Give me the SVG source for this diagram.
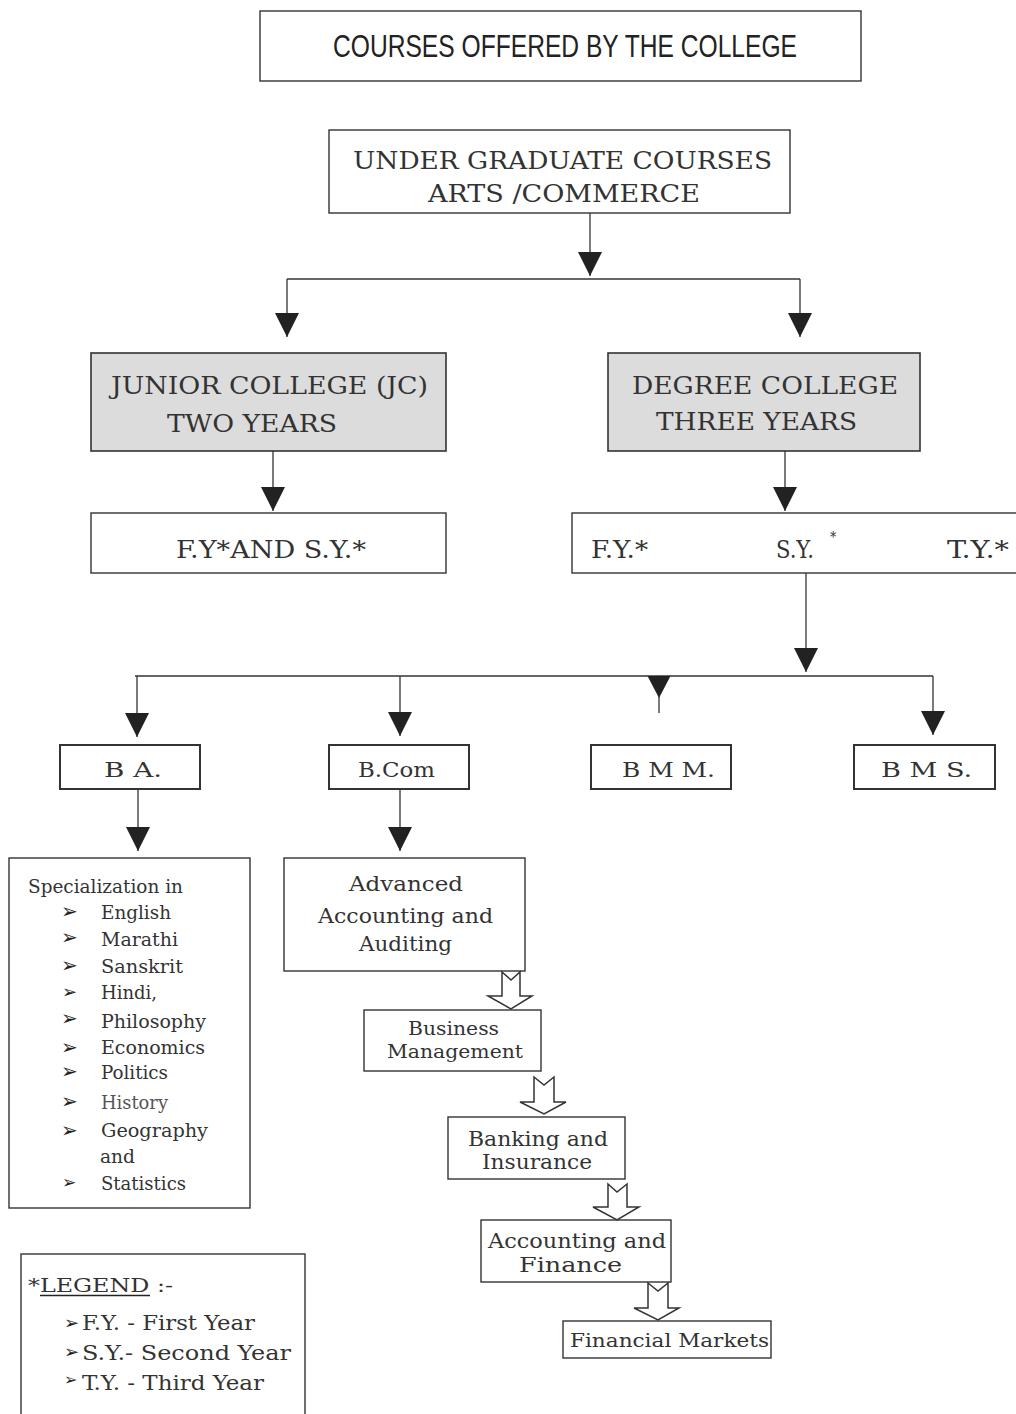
<svg xmlns="http://www.w3.org/2000/svg" width="1016" height="1414" viewBox="0 0 1016 1414">
<style>
.box{fill:#fff;stroke:#333;stroke-width:1.4}
.gray{fill:#dcdcdc;stroke:#333;stroke-width:1.6}
.deg{fill:#fff;stroke:#333;stroke-width:2}
.t{font-family:"DejaVu Serif Condensed","DejaVu Serif","Liberation Serif",serif;fill:#333}
.title{font-family:"Liberation Sans Narrow","Liberation Sans",sans-serif;fill:#222;font-size:32px}
.bul{font-family:"DejaVu Sans",sans-serif;fill:#222}
.ln{stroke:#333;stroke-width:1.3;fill:none}
.hollow{fill:#fff;stroke:#333;stroke-width:1.5;stroke-linejoin:miter}
</style>
<defs>
<marker id="ah" markerUnits="userSpaceOnUse" markerWidth="24" markerHeight="24" viewBox="0 0 22 22" refX="22" refY="11" orient="auto">
<path d="M0,0 L22,11 L0,22 Z" fill="#222"/>
</marker>
</defs>

<g id="title">
<rect class="box" x="260" y="11" width="601" height="70"/>
<text class="title" x="333" y="57" textLength="464" lengthAdjust="spacingAndGlyphs">COURSES OFFERED BY THE COLLEGE</text>
</g>

<g id="ug">
<rect class="box" x="329" y="130" width="461" height="83"/>
<text class="t" font-size="24" x="353" y="169" textLength="419" lengthAdjust="spacingAndGlyphs">UNDER GRADUATE COURSES</text>
<text class="t" font-size="24" x="428" y="202" textLength="272" lengthAdjust="spacingAndGlyphs">ARTS /COMMERCE</text>
</g>

<g id="jc">
<rect class="gray" x="91" y="353" width="355" height="98"/>
<text class="t" font-size="24" x="111" y="394" textLength="317" lengthAdjust="spacingAndGlyphs">JUNIOR COLLEGE (JC)</text>
<text class="t" font-size="24" x="167" y="432" textLength="170" lengthAdjust="spacingAndGlyphs">TWO YEARS</text>
</g>

<g id="degree">
<rect class="gray" x="608" y="353" width="312" height="98"/>
<text class="t" font-size="24" x="632" y="394" textLength="266" lengthAdjust="spacingAndGlyphs">DEGREE COLLEGE</text>
<text class="t" font-size="24" x="656" y="430" textLength="201" lengthAdjust="spacingAndGlyphs">THREE YEARS</text>
</g>

<g id="jc-years">
<rect class="box" x="91" y="513" width="355" height="60"/>
<text class="t" font-size="25" x="176" y="558" textLength="190" lengthAdjust="spacingAndGlyphs">F.Y*AND S.Y.*</text>
</g>

<g id="degree-years">
<rect class="box" x="572" y="513" width="450" height="60"/>
<text class="t" font-size="25" x="591" y="558" textLength="57" lengthAdjust="spacingAndGlyphs">F.Y.*</text>
<text class="t" font-size="24" x="776" y="558" textLength="38" lengthAdjust="spacingAndGlyphs">S.Y.</text>
<text class="t" font-size="14" x="830" y="542">*</text>
<text class="t" font-size="25" x="947" y="558" textLength="62" lengthAdjust="spacingAndGlyphs">T.Y.*</text>
</g>

<g id="ba">
<rect class="deg" x="60" y="745" width="140" height="44"/>
<text class="t" font-size="20" x="104" y="777" textLength="58" lengthAdjust="spacingAndGlyphs">B A.</text>
</g>
<g id="bcom">
<rect class="deg" x="329" y="745" width="140" height="44"/>
<text class="t" font-size="20" x="358" y="777" textLength="77" lengthAdjust="spacingAndGlyphs">B.Com</text>
</g>
<g id="bmm">
<rect class="deg" x="591" y="745" width="140" height="44"/>
<text class="t" font-size="20" x="622" y="777" textLength="93" lengthAdjust="spacingAndGlyphs">B M M.</text>
</g>
<g id="bms">
<rect class="deg" x="854" y="745" width="141" height="44"/>
<text class="t" font-size="20" x="881" y="777" textLength="91" lengthAdjust="spacingAndGlyphs">B M S.</text>
</g>

<g id="specialization">
<rect class="box" x="9" y="858" width="241" height="350"/>
<text class="t" font-size="19" x="28" y="893" textLength="155" lengthAdjust="spacingAndGlyphs">Specialization in</text>
<g class="bul" font-size="20">
<text x="61" y="918">➢</text>
<text x="61" y="944">➢</text>
<text x="61" y="972">➢</text>
<text x="62" y="998" font-size="18">➢</text>
<text x="61" y="1025">➢</text>
<text x="61" y="1054">➢</text>
<text x="61" y="1078">➢</text>
<text x="61" y="1108">➢</text>
<text x="61" y="1137">➢</text>
<text x="62" y="1188" font-size="17">➢</text>
</g>
<g class="t" font-size="19">
<text x="101" y="919" textLength="70" lengthAdjust="spacingAndGlyphs">English</text>
<text x="101" y="946" textLength="77" lengthAdjust="spacingAndGlyphs">Marathi</text>
<text x="101" y="973" textLength="82" lengthAdjust="spacingAndGlyphs">Sanskrit</text>
<text x="101" y="999" textLength="56" lengthAdjust="spacingAndGlyphs">Hindi,</text>
<text x="101" y="1028" textLength="105" lengthAdjust="spacingAndGlyphs">Philosophy</text>
<text x="101" y="1054" textLength="104" lengthAdjust="spacingAndGlyphs">Economics</text>
<text x="101" y="1079" textLength="67" lengthAdjust="spacingAndGlyphs">Politics</text>
<text x="101" y="1109" textLength="67" lengthAdjust="spacingAndGlyphs" fill="#555">History</text>
<text x="101" y="1137" textLength="107" lengthAdjust="spacingAndGlyphs">Geography</text>
<text x="100" y="1163" textLength="35" lengthAdjust="spacingAndGlyphs">and</text>
<text x="101" y="1190" textLength="85" lengthAdjust="spacingAndGlyphs">Statistics</text>
</g>
</g>

<g id="advanced">
<rect class="box" x="284" y="858" width="241" height="113"/>
<text class="t" font-size="21" x="349" y="891" textLength="114" lengthAdjust="spacingAndGlyphs">Advanced</text>
<text class="t" font-size="21" x="318" y="923" textLength="175" lengthAdjust="spacingAndGlyphs">Accounting and</text>
<text class="t" font-size="21" x="359" y="951" textLength="93" lengthAdjust="spacingAndGlyphs">Auditing</text>
</g>

<g id="business">
<rect class="box" x="364" y="1010" width="177" height="61"/>
<text class="t" font-size="19" x="408" y="1035" textLength="91" lengthAdjust="spacingAndGlyphs">Business</text>
<text class="t" font-size="19" x="387" y="1058" textLength="136" lengthAdjust="spacingAndGlyphs">Management</text>
</g>

<g id="banking">
<rect class="box" x="448" y="1117" width="177" height="62"/>
<text class="t" font-size="20" x="468" y="1146" textLength="140" lengthAdjust="spacingAndGlyphs">Banking and</text>
<text class="t" font-size="20" x="482" y="1169" textLength="110" lengthAdjust="spacingAndGlyphs">Insurance</text>
</g>

<g id="accfin">
<rect class="box" x="481" y="1220" width="190" height="62"/>
<text class="t" font-size="20" x="488" y="1248" textLength="178" lengthAdjust="spacingAndGlyphs">Accounting and</text>
<text class="t" font-size="20" x="519" y="1272" textLength="103" lengthAdjust="spacingAndGlyphs">Finance</text>
</g>

<g id="finmarkets">
<rect class="box" x="563" y="1321" width="208" height="37"/>
<text class="t" font-size="19" x="570" y="1347" textLength="199" lengthAdjust="spacingAndGlyphs">Financial Markets</text>
</g>

<g id="legend">
<rect class="box" x="21" y="1254" width="284" height="200"/>
<text class="t" font-size="19" x="28" y="1292" textLength="145" lengthAdjust="spacingAndGlyphs">*LEGEND :-</text>
<line x1="40" y1="1295.5" x2="150" y2="1295.5" stroke="#222" stroke-width="1.3"/>
<text class="bul" font-size="18" x="64" y="1329">➢</text>
<text class="bul" font-size="18" x="64" y="1358">➢</text>
<text class="bul" font-size="16" x="64" y="1385">➢</text>
<text class="t" font-size="20" x="82" y="1330" textLength="173" lengthAdjust="spacingAndGlyphs">F.Y. - First Year</text>
<text class="t" font-size="20" x="82" y="1360" textLength="209" lengthAdjust="spacingAndGlyphs">S.Y.- Second Year</text>
<text class="t" font-size="20" x="82" y="1390" textLength="182" lengthAdjust="spacingAndGlyphs">T.Y. - Third Year</text>
</g>

<g id="connectors">
<line class="ln" x1="590" y1="213" x2="590" y2="276" marker-end="url(#ah)"/>
<line class="ln" x1="287" y1="279" x2="800" y2="279"/>
<line class="ln" x1="287" y1="279" x2="287" y2="337" marker-end="url(#ah)"/>
<line class="ln" x1="800" y1="279" x2="800" y2="337" marker-end="url(#ah)"/>
<line class="ln" x1="273" y1="451" x2="273" y2="511" marker-end="url(#ah)"/>
<line class="ln" x1="785" y1="451" x2="785" y2="511" marker-end="url(#ah)"/>
<line class="ln" x1="806" y1="573" x2="806" y2="672" marker-end="url(#ah)"/>
<line class="ln" x1="135" y1="676" x2="933" y2="676"/>
<line class="ln" x1="137" y1="676" x2="137" y2="737" marker-end="url(#ah)"/>
<line class="ln" x1="400" y1="676" x2="400" y2="736" marker-end="url(#ah)"/>
<line class="ln" x1="933" y1="676" x2="933" y2="735" marker-end="url(#ah)"/>
<line class="ln" x1="659" y1="676" x2="659" y2="713"/>
<path d="M647.5,676 L670.5,676 L659,698 Z" fill="#222"/>
<line class="ln" x1="138" y1="789" x2="138" y2="851" marker-end="url(#ah)"/>
<line class="ln" x1="400" y1="789" x2="400" y2="851" marker-end="url(#ah)"/>
<polygon class="hollow" points="502,972 511,980 520,972 520,996 532,996 511,1009 488,996 502,996"/>
<polygon class="hollow" points="534,1077 544,1085 554,1077 554,1102 566,1102 544,1114 520,1102 534,1102"/>
<polygon class="hollow" points="608,1184 617,1192 627,1184 627,1207 639,1207 617,1220 593,1207 608,1207"/>
<polygon class="hollow" points="648,1283 658,1291 668,1283 668,1308 679,1308 658,1320 634,1308 648,1308"/>
</g>
</svg>
